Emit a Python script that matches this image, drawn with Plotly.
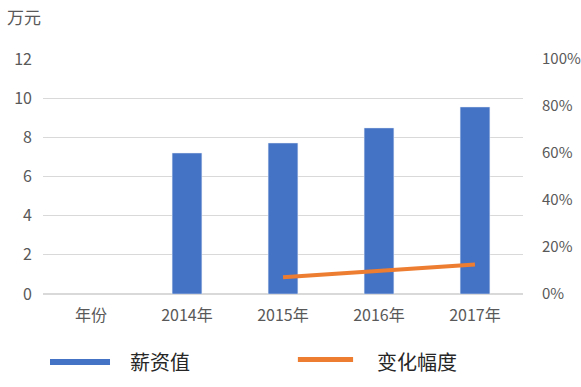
import plotly.graph_objects as go

categories = ["年份", "2014年", "2015年", "2016年", "2017年"]
salary = [None, 7.2, 7.71, 8.48, 9.55]
change = [None, None, 0.071, 0.10, 0.126]
legend_names = ["薪资值", "变化幅度"]
y_unit = "万元"

BLUE = "#4472C4"
ORANGE = "#ED7D31"
GREY = "#595959"
FONT = "Noto Sans CJK SC"

fig = go.Figure()
fig.add_trace(go.Bar(x=categories, y=salary, name=legend_names[0],
                     marker_color=BLUE, width=0.31, showlegend=False))
fig.add_trace(go.Scatter(x=categories, y=change, name=legend_names[1], yaxis="y2",
                         mode="lines", line=dict(color=ORANGE, width=4),
                         connectgaps=False, showlegend=False))

fig.update_layout(
    width=581, height=387,
    margin=dict(l=43, r=58, t=59, b=93),
    paper_bgcolor="white", plot_bgcolor="white",
    font=dict(family=FONT, size=16, color=GREY),
    xaxis=dict(type="category", showgrid=False, showline=False, ticks="",
               automargin=False,
               tickfont=dict(size=16, color=GREY), ticklabelstandoff=10),
    yaxis=dict(range=[0, 12], dtick=2, showgrid=True, gridcolor="#d9d9d9",
               gridwidth=1, zeroline=True, zerolinecolor="#d9d9d9", showline=False,
               automargin=False,
               tickfont=dict(size=16, color=GREY), ticklabelstandoff=10),
    yaxis2=dict(range=[0, 1], dtick=0.2, tickformat=".0%", overlaying="y",
                side="right", showgrid=False, zeroline=False, showline=False,
                automargin=False,
                tickfont=dict(size=15, color=GREY), ticklabelstandoff=18),
    bargap=0.6,
)

# unit title
fig.add_annotation(text=y_unit, xref="paper", yref="paper", x=-0.08, y=1.18,
                   xanchor="left", yanchor="middle", showarrow=False,
                   font=dict(family=FONT, size=17, color=GREY))

# custom legend
leg_y = -0.289
fig.add_shape(type="line", xref="paper", yref="paper", x0=0.0146, x1=0.1396,
              y0=leg_y, y1=leg_y, line=dict(color=BLUE, width=6))
fig.add_annotation(text=legend_names[0], xref="paper", yref="paper", x=0.177, y=leg_y,
                   xanchor="left", yanchor="middle", showarrow=False,
                   font=dict(family=FONT, size=20, color="#262626"))
fig.add_shape(type="line", xref="paper", yref="paper", x0=0.531, x1=0.646,
              y0=leg_y + 0.01, y1=leg_y + 0.01, line=dict(color=ORANGE, width=5))
fig.add_annotation(text=legend_names[1], xref="paper", yref="paper", x=0.692, y=leg_y,
                   xanchor="left", yanchor="middle", showarrow=False,
                   font=dict(family=FONT, size=20, color="#262626"))

fig.write_html("out.html")
